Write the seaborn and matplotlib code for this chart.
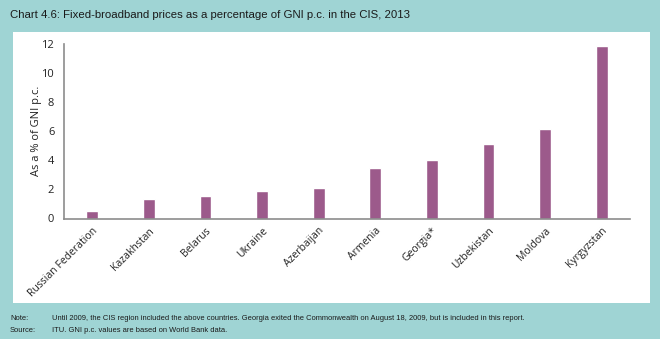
import matplotlib
matplotlib.use("Agg")
import matplotlib.pyplot as plt
from matplotlib.patches import Rectangle
import seaborn as sns
import pandas as pd
import numpy as np

countries = ["Russian Federation", "Kazakhstan", "Belarus", "Ukraine", "Azerbaijan",
             "Armenia", "Georgia*", "Uzbekistan", "Moldova", "Kyrgyzstan"]
pct_gni = [0.55, 1.35, 1.58, 1.92, 2.08, 3.45, 4.02, 5.12, 6.17, 11.88]
y_ticks = [0, 2, 4, 6, 8, 10, 12]

title = "Chart 4.6: Fixed-broadband prices as a percentage of GNI p.c. in the CIS, 2013"
y_label = "As a % of GNI p.c."
note = "Until 2009, the CIS region included the above countries. Georgia exited the Commonwealth on August 18, 2009, but is included in this report."
source = "ITU. GNI p.c. values are based on World Bank data."

sns.set_theme(style="white")
plt.rcParams["font.family"] = ["Open Sans", "DejaVu Sans"]
narrow = ["Liberation Sans", "DejaVu Sans"]

W, H = 660, 339
teal = "#9fd4d4"
bar_color = "#9c5a8b"
axis_grey = "#8c8c8c"

fig = plt.figure(figsize=(W / 100, H / 100), dpi=100, facecolor=teal)
# white panel behind the chart
fig.patches.append(Rectangle((13 / W, 1 - 303 / H), (650 - 13) / W, (303 - 32) / H,
                             transform=fig.transFigure, facecolor="white",
                             edgecolor="none", zorder=-10))

ax = fig.add_axes([64 / W, 1 - 218.5 / H, (630 - 64) / W, (218.5 - 44) / H])
ax.set_facecolor("none")
ax.set_zorder(5)

df = pd.DataFrame({"country": countries, "value": pct_gni})
sns.barplot(data=df, x="country", y="value", color=bar_color, width=0.21,
            saturation=1, ax=ax)

ax.set_xlim(-0.5, len(countries) - 0.5)
ax.set_ylim(0, 12)
ax.set_yticks(y_ticks)
ax.set_yticklabels([str(t) for t in y_ticks], fontsize=8, color="#222222")
ax.set_xticks(range(len(countries)))
ax.set_xticklabels(countries, rotation=45, ha="right", rotation_mode="anchor",
                   fontsize=7.5, color="#222222")
ax.set_xticks(np.arange(-0.5, len(countries), 1.0), minor=True)
ax.tick_params(axis="x", which="major", length=0, pad=5)
ax.tick_params(axis="x", which="minor", length=4, width=1, color=axis_grey, direction="out")
ax.tick_params(axis="y", length=4, width=1, color=axis_grey, direction="out", pad=3)
ax.set_xlabel("")
ax.set_ylabel(y_label, fontsize=8, color="#222222", labelpad=0)

for side in ["top", "right"]:
    ax.spines[side].set_visible(False)
for side in ["left", "bottom"]:
    ax.spines[side].set_color(axis_grey)
    ax.spines[side].set_linewidth(1.2)

fig.text(10 / W, 1 - 15 / H, title, fontsize=8.2, family=narrow, color="#1a1a1a",
         va="center", ha="left")
fig.text(10 / W, 1 - 318 / H, "Note:", fontsize=5.4, family=narrow, color="#1a1a1a", va="center")
fig.text(52 / W, 1 - 318 / H, note, fontsize=5.4, family=narrow, color="#1a1a1a", va="center")
fig.text(10 / W, 1 - 331 / H, "Source:", fontsize=5.4, family=narrow, color="#1a1a1a", va="center")
fig.text(52 / W, 1 - 331 / H, source, fontsize=5.4, family=narrow, color="#1a1a1a", va="center")

fig.savefig("out.png", dpi=100, facecolor=teal)
